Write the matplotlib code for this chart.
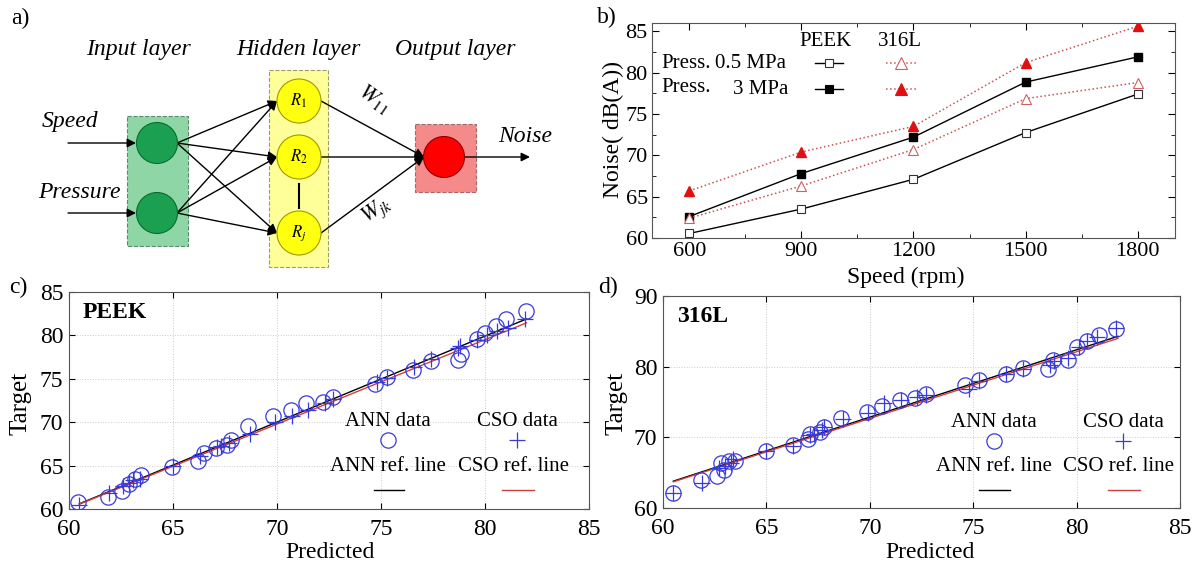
import matplotlib.pyplot as plt
from matplotlib.patches import Rectangle, Circle
from matplotlib.lines import Line2D
import numpy as np

plt.rcParams['font.family'] = ['Liberation Serif', 'DejaVu Serif']
plt.rcParams['mathtext.fontset'] = 'stix'

W, H = 1197, 565

# panel b data
speed = [600, 900, 1200, 1500, 1800]
peek_05 = [60.55, 63.5, 67.1, 72.75, 77.4]
peek_3 = [62.6, 67.8, 72.2, 78.85, 81.9]
s316_05 = [62.4, 66.3, 70.7, 76.85, 78.8]
s316_3 = [65.7, 70.4, 73.5, 81.2, 85.6]

# panel c data (PEEK)
c_ann_pred = [60.44, 61.88, 62.53, 62.9, 63.18, 63.45, 64.97, 66.2, 66.5, 67.05, 67.6, 67.8, 68.62, 69.82,
              70.65, 71.39, 72.22, 72.68, 74.7, 75.3, 76.56, 77.4, 78.69, 78.87, 79.6, 79.98, 80.53, 81.0, 81.97]
c_ann_target = [60.77, 61.39, 62.12, 62.9, 63.47, 63.86, 64.86, 65.5, 66.4, 67.06, 67.37, 67.95, 69.57, 70.73,
                71.42, 72.19, 72.35, 72.85, 74.4, 75.24, 76.0, 77.09, 77.17, 77.86, 79.6, 80.3, 81.07, 81.84, 82.8]
c_cso_pred = [60.5, 61.9, 62.6, 62.9, 63.1, 63.4, 65.0, 66.3, 67.1, 67.3, 67.7, 68.7, 69.9, 70.7, 71.5,
              72.3, 72.7, 74.8, 75.3, 76.6, 77.4, 78.7, 78.8, 79.6, 80.1, 80.6, 81.1, 81.9]
c_cso_target = [60.5, 61.9, 62.7, 63.0, 63.3, 63.5, 65.0, 66.1, 67.1, 67.3, 67.6, 68.6, 70.0, 70.7, 71.4,
                72.2, 72.7, 74.6, 75.1, 76.4, 77.3, 78.6, 78.8, 79.5, 80.0, 80.5, 80.9, 81.9]
ref_x = [60.5, 82.0]
c_ann_ref = [60.6, 81.9]
c_cso_ref = [60.55, 81.45]

# panel d data (316L)
d_ann_pred = [60.5, 61.85, 62.6, 62.8, 62.95, 63.2, 63.5, 65.0, 66.3, 67.0, 67.1, 67.6, 67.8, 68.6, 69.85,
              70.6, 71.45, 72.2, 72.7, 74.6, 75.3, 76.6, 77.4, 78.6, 78.85, 79.6, 80.0, 80.5, 81.1, 81.9]
d_ann_target = [62.1, 64.0, 64.5, 66.4, 65.4, 66.6, 66.6, 68.0, 68.9, 69.7, 70.45, 70.8, 71.5, 72.8, 73.6,
                74.5, 75.3, 75.5, 76.1, 77.35, 78.1, 79.0, 79.8, 79.7, 80.9, 80.9, 82.8, 83.6, 84.5, 85.4]
d_cso_pred = [60.5, 61.9, 62.7, 63.0, 63.3, 63.4, 65.0, 66.3, 67.1, 67.3, 67.7, 67.8, 68.7, 69.9, 70.7,
              71.5, 72.3, 72.7, 74.8, 75.3, 76.6, 77.4, 78.7, 78.9, 79.6, 80.1, 80.5, 81.0, 81.9]
d_cso_target = [62.1, 63.5, 65.7, 66.0, 66.4, 67.0, 68.0, 68.8, 70.3, 70.5, 71.0, 71.4, 72.6, 73.5, 74.8,
                75.3, 75.7, 76.0, 76.8, 78.0, 79.0, 79.6, 80.2, 80.8, 81.2, 82.8, 83.6, 84.2, 85.5]
d_ann_ref = [63.8, 84.3]
d_cso_ref = [63.7, 84.0]

# panel a diagram nodes (pixel coords)
input_names = ['Speed', 'Pressure']
input_y = [143, 213]
hidden_names = ['$R_1$', '$R_2$', '$R_j$']
hidden_y = [101, 157, 233]
output_y = 157

fig = plt.figure(figsize=(W / 100, H / 100), dpi=100)


def px(x, y):
    return x / W, 1 - y / H


# ---------- a) network sketch ----------
axa = fig.add_axes([0, 0, 600 / W, 1])
axa.set_xlim(0, 600)
axa.set_ylim(H, 0)
axa.axis('off')

axa.add_patch(Rectangle((127, 116), 61, 130, fc='#8fd6a6', ec='#5a8a6a', ls='--', lw=0.8))
axa.add_patch(Rectangle((269, 70), 59, 197, fc='#ffff99', ec='#9a9a6a', ls='--', lw=0.8))
axa.add_patch(Rectangle((415, 124), 61, 68, fc='#f58a8a', ec='#a06a6a', ls='--', lw=0.8))

gx, hx, ox = 157, 299, 444
arr = dict(arrowstyle='-|>', color='black', lw=1.0, mutation_scale=13, shrinkA=0, shrinkB=0)
for name, y in zip(input_names, input_y):
    axa.annotate('', xy=(gx - 21, y), xytext=(68, y), arrowprops=arr)
    axa.text(70 if name == 'Speed' else 79, y - 21, name, ha='center', va='center',
             fontsize=17, style='italic')
    for hy in hidden_y:
        axa.annotate('', xy=(hx - 22, hy), xytext=(gx + 20, y), arrowprops=arr)
for hy in hidden_y:
    axa.annotate('', xy=(ox - 20, output_y), xytext=(hx + 22, hy), arrowprops=arr)
axa.annotate('', xy=(530, output_y), xytext=(ox + 20, output_y), arrowprops=arr)
axa.plot([hx, hx], [184, 208], color='black', lw=1.5)

for y in input_y:
    axa.add_patch(Circle((gx, y), 20.5, fc='#1aa050', ec='#0d6a30', lw=0.8, zorder=3))
for name, y in zip(hidden_names, hidden_y):
    axa.add_patch(Circle((hx, y), 22, fc='#ffff10', ec='#a09a00', lw=0.8, zorder=3))
    axa.text(hx, y, name, ha='center', va='center', fontsize=12, zorder=4)
axa.add_patch(Circle((ox, output_y), 20.5, fc='#ff0000', ec='#900000', lw=0.8, zorder=3))

axa.text(138, 50, 'Input layer', ha='center', va='center', fontsize=17, style='italic')
axa.text(298, 50, 'Hidden layer', ha='center', va='center', fontsize=17, style='italic')
axa.text(455, 50, 'Output layer', ha='center', va='center', fontsize=17, style='italic')
axa.text(525, 137, 'Noise', ha='center', va='center', fontsize=17, style='italic')
axa.text(374, 99, '$W_{11}$', ha='center', va='center', fontsize=16, rotation=-35)
axa.text(377, 211, '$W_{jk}$', ha='center', va='center', fontsize=16, rotation=35)
axa.text(20, 18, 'a)', ha='center', va='center', fontsize=17)

# ---------- b) noise vs speed ----------
axb = fig.add_axes([652 / W, 1 - 238 / H, 523 / W, 215 / H])
axb.plot(speed, peek_05, color='black', lw=1.0, marker='s', ms=6, mfc='white', mec='#333333', mew=0.8)
axb.plot(speed, peek_3, color='black', lw=1.0, marker='s', ms=6, mfc='black', mec='black')
axb.plot(speed, s316_05, color='#d05050', lw=1.1, ls=':', marker='^', ms=7, mfc='white', mec='#d06060', mew=0.8)
axb.plot(speed, s316_3, color='#d05050', lw=1.1, ls=':', marker='^', ms=7, mfc='#e01010', mec='#e01010')
axb.set_xlim(500, 1900)
axb.set_ylim(60, 86)
axb.set_xticks(speed)
axb.set_xticks([750, 1050, 1350, 1650], minor=True)
axb.set_yticks([60, 65, 70, 75, 80, 85])
axb.set_yticks([62.5, 67.5, 72.5, 77.5, 82.5], minor=True)
axb.tick_params(which='both', direction='in', top=True, right=True, labelsize=16, pad=3)
axb.tick_params(which='major', length=5)
axb.tick_params(which='minor', length=3)
for s in axb.spines.values():
    s.set_color('#555555')

# hand-made legend
tb = fig.transFigure
fig.text(*px(826, 41), 'PEEK', ha='center', va='center', fontsize=15)
fig.text(*px(900, 41), '316L', ha='center', va='center', fontsize=15)
fig.text(*px(661, 63), 'Press.', ha='left', va='center', fontsize=15)
fig.text(*px(715, 64), '0.5 MPa', ha='left', va='center', fontsize=15)
fig.text(*px(661, 88), 'Press.', ha='left', va='center', fontsize=15)
fig.text(*px(733, 89), '3 MPa', ha='left', va='center', fontsize=15)
leg_rows = [(63, 'white', '#333333', 'white', '#d06060'), (89, 'black', 'black', '#e01010', '#e01010')]
for y, f1, e1, f2, e2 in leg_rows:
    yy = 1 - y / H
    fig.add_artist(Line2D([815 / W, 843 / W], [yy, yy], transform=tb, color='black', lw=1.0))
    fig.add_artist(Line2D([829 / W], [yy], transform=tb, marker='s', ms=6, mfc=f1, mec=e1, mew=0.8))
    fig.add_artist(Line2D([886 / W, 916 / W], [yy, yy], transform=tb, color='#d05050', lw=1.1, ls=':'))
    fig.add_artist(Line2D([901 / W], [yy], transform=tb, marker='^', ms=8, mfc=f2, mec=e2, mew=0.8))

fig.text(*px(613, 130), 'Noise( dB(A))', ha='center', va='center', fontsize=17, rotation=90)
fig.text(*px(906, 277), 'Speed (rpm)', ha='center', va='center', fontsize=17)
fig.text(*px(607, 17), 'b)', ha='center', va='center', fontsize=17)


# ---------- c) and d) regressions ----------
def regression(ax, pred, target, cpred, ctarget, ann_ref, cso_ref, ylim, yticks, name, leg):
    ax.plot(ref_x, ann_ref, color='black', lw=1.0, zorder=2)
    ax.plot(ref_x, cso_ref, color='#d04040', lw=1.0, zorder=2)
    ax.plot(pred, target, ls='none', marker='o', ms=11, mfc='none', mec='#3a3ad8', mew=0.9, zorder=3)
    ax.plot(cpred, ctarget, ls='none', marker='+', ms=11, mec='#3a3ad8', mew=0.9, zorder=3)
    ax.set_xlim(60, 85)
    ax.set_ylim(*ylim)
    ax.set_xticks([60, 65, 70, 75, 80, 85])
    ax.set_yticks(yticks)
    ax.grid(True, color='#cccccc', ls=':', lw=0.7)
    ax.tick_params(direction='in', top=True, right=True, labelsize=17, length=4)
    ax.tick_params(axis='x', pad=7)
    ax.tick_params(axis='y', pad=4)
    for s in ax.spines.values():
        s.set_color('#555555')
    ax.text(0.027, 0.905, name, transform=ax.transAxes, fontsize=17, fontweight='bold', va='center')
    ax_x, cx, lx0, lx1, rx0, rx1 = leg
    tr = ax.transAxes
    ax.text(ax_x, 0.405, 'ANN data', transform=tr, ha='center', va='center', fontsize=15)
    ax.plot([ax_x], [0.318], transform=tr, marker='o', ms=11, mfc='none', mec='#3a3ad8', mew=0.9)
    ax.text(ax_x, 0.195, 'ANN ref. line', transform=tr, ha='center', va='center', fontsize=15)
    ax.plot([lx0, lx1], [0.087, 0.087], transform=tr, color='black', lw=1.0)
    ax.text(cx, 0.405, 'CSO data', transform=tr, ha='center', va='center', fontsize=15)
    ax.plot([cx], [0.318], transform=tr, marker='+', ms=11, mec='#3a3ad8', mew=0.9)
    ax.text(cx - 0.008, 0.195, 'CSO ref. line', transform=tr, ha='center', va='center', fontsize=15)
    ax.plot([rx0, rx1], [0.087, 0.087], transform=tr, color='#d04040', lw=1.0)


axc = fig.add_axes([69 / W, 1 - 509 / H, 520 / W, 217 / H])
regression(axc, c_ann_pred, c_ann_target, c_cso_pred, c_cso_target, c_ann_ref, c_cso_ref,
           (60, 85), [60, 65, 70, 75, 80, 85], 'PEEK', (0.614, 0.862, 0.586, 0.644, 0.833, 0.895))
axd = fig.add_axes([663 / W, 1 - 508 / H, 517 / W, 212 / H])
regression(axd, d_ann_pred, d_ann_target, d_cso_pred, d_cso_target, d_ann_ref, d_cso_ref,
           (60, 90), [60, 70, 80, 90], '316L', (0.64, 0.89, 0.611, 0.671, 0.861, 0.923))

fig.text(*px(21, 403), 'Target', ha='center', va='center', fontsize=18, rotation=90)
fig.text(*px(617, 403), 'Target', ha='center', va='center', fontsize=18, rotation=90)
fig.text(*px(330, 553), 'Predicted', ha='center', va='center', fontsize=17)
fig.text(*px(930, 553), 'Predicted', ha='center', va='center', fontsize=17)
fig.text(*px(18, 287), 'c)', ha='center', va='center', fontsize=17)
fig.text(*px(608, 287), 'd)', ha='center', va='center', fontsize=17)

fig.savefig('out.png', dpi=100)
